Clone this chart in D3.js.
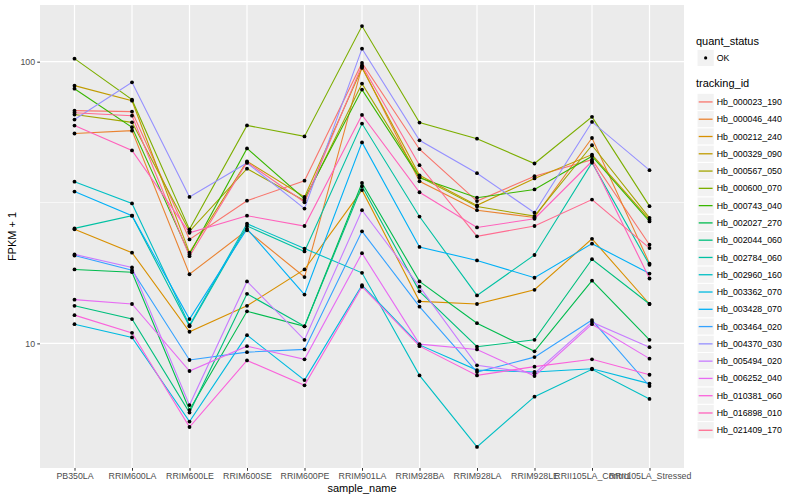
<!DOCTYPE html>
<html>
<head>
<meta charset="utf-8">
<script src="https://cdn.jsdelivr.net/npm/d3@7/dist/d3.min.js"></script>
<style>
	body { margin: 0; background: #ffffff; }
	svg { font-family: "Liberation Sans", Arial, Helvetica, sans-serif; }
</style>
</head>
<body>
<div id="chart"></div>
<script>
//samples along the x axis
var sample_names = ["PB350LA", "RRIM600LA", "RRIM600LE", "RRIM600SE", "RRIM600PE", "RRIM901LA",
	"RRIM928BA", "RRIM928LA", "RRIM928LE", "RRII105LA_Control", "RRII105LA_Stressed"];

var tracking_ids = ["Hb_000023_190", "Hb_000046_440", "Hb_000212_240", "Hb_000329_090", "Hb_000567_050",
	"Hb_000600_070", "Hb_000743_040", "Hb_002027_270", "Hb_002044_060", "Hb_002784_060",
	"Hb_002960_160", "Hb_003362_070", "Hb_003428_070", "Hb_003464_020", "Hb_004370_030",
	"Hb_005494_020", "Hb_006252_040", "Hb_010381_060", "Hb_016898_010", "Hb_021409_170"];

//default ggplot hue palette for 20 levels
var tracking_colors = ["#F8766D", "#EA8331", "#D89000", "#C09B00", "#A3A500", "#7CAE00", "#39B600",
	"#00BB4E", "#00BF7D", "#00C1A3", "#00BFC4", "#00BAE0", "#00B0F6", "#35A2FF", "#9590FF",
	"#C77CFF", "#E76BF3", "#FA62DB", "#FF62BC", "#FF6C91"];

var quant_status = ["OK"];

//FPKM + 1, one value per sample (same order as sample_names)
var hb_000023_190 = [67.0, 66.5, 23.4, 32.1, 37.8, 99.0, 48.9, 32.0, 39.2, 44.9, 22.4];
var hb_000046_440 = [55.6, 56.9, 17.6, 25.2, 17.2, 96.0, 37.6, 29.7, 28.0, 53.6, 19.2];
var hb_000212_240 = [25.4, 21.0, 11.0, 13.6, 18.3, 35.0, 14.1, 13.8, 15.5, 23.5, 13.8];
var hb_000329_090 = [82.2, 72.7, 21.0, 44.3, 33.1, 95.0, 39.5, 30.9, 38.5, 46.8, 27.5];
var hb_000567_050 = [64.9, 60.9, 25.0, 41.7, 32.1, 83.6, 39.0, 30.6, 28.3, 50.5, 27.9];
var hb_000600_070 = [102.5, 73.3, 25.4, 59.4, 54.3, 133.8, 60.8, 53.3, 43.5, 63.7, 30.7];
var hb_000743_040 = [80.2, 58.5, 20.7, 49.2, 32.6, 79.6, 38.7, 32.9, 35.2, 46.2, 27.1];
var hb_002027_270 = [18.3, 17.9, 5.80, 13.0, 11.5, 37.1, 16.6, 11.8, 9.37, 16.7, 10.3];
var hb_002044_060 = [13.6, 12.2, 5.68, 15.0, 11.5, 36.1, 15.3, 9.73, 10.3, 19.9, 13.8];
var hb_002784_060 = [25.6, 28.4, 11.5, 26.1, 21.2, 60.3, 28.2, 14.8, 20.6, 43.8, 19.0];
var hb_002960_160 = [37.5, 31.4, 11.6, 26.6, 21.7, 17.8, 7.70, 4.29, 6.47, 8.09, 6.35];
var hb_003362_070 = [11.7, 10.5, 5.28, 10.7, 7.41, 16.1, 9.88, 8.04, 7.92, 8.13, 7.20];
var hb_003428_070 = [34.6, 28.4, 12.2, 25.5, 14.9, 51.7, 22.0, 19.7, 17.1, 22.6, 17.7];
var hb_003464_020 = [20.5, 18.2, 8.73, 9.31, 9.52, 25.0, 13.5, 7.91, 8.94, 12.1, 7.06];
var hb_004370_030 = [62.3, 84.5, 33.1, 43.7, 30.1, 111.2, 52.6, 40.2, 29.1, 61.1, 41.2];
var hb_005494_020 = [20.7, 18.6, 6.04, 16.6, 10.3, 29.7, 15.9, 8.36, 7.83, 11.9, 9.70];
var hb_006252_040 = [14.3, 13.8, 7.98, 9.78, 8.78, 20.9, 9.94, 9.52, 7.66, 11.7, 8.83];
var hb_010381_060 = [12.6, 10.9, 5.05, 8.70, 7.10, 15.9, 9.78, 7.70, 8.27, 8.78, 7.74];
var hb_016898_010 = [59.3, 48.4, 24.7, 28.4, 26.1, 64.7, 34.4, 25.8, 27.7, 44.3, 17.0];
var hb_021409_170 = [65.9, 64.3, 20.4, 44.0, 31.7, 97.0, 42.9, 24.0, 26.1, 32.4, 21.8];

var y_ticks = [10, 100];

var fpkm_rows = [hb_000023_190, hb_000046_440, hb_000212_240, hb_000329_090, hb_000567_050,
	hb_000600_070, hb_000743_040, hb_002027_270, hb_002044_060, hb_002784_060,
	hb_002960_160, hb_003362_070, hb_003428_070, hb_003464_020, hb_004370_030,
	hb_005494_020, hb_006252_040, hb_010381_060, hb_016898_010, hb_021409_170];


function ExpressionPlot(frame_id)
{
	//Draws one line per gene across the samples, on a log10 y axis
	var self = this;

	self.width = 800;
	self.height = 500;
	self.panel = {left: 40, right: 684, top: 5, bottom: 468};

	self.series = tracking_ids.map(function(id, i)
		{
			return {
				id: id,
				color: tracking_colors[i],
				points: sample_names.map(function(s, j) { return {sample: s, value: fpkm_rows[i][j]}; })
			};
		}
	);

	self.svg = d3.select("#" + frame_id)
		.append("svg")
			.attr("width", self.width)
			.attr("height", self.height);

	self.setScales();
	self.drawPanel();
	self.drawSeries();
	self.drawAxes();
	self.drawLegend();
}

ExpressionPlot.prototype.setScales = function()
{
	var self = this;

	self.x = d3.scalePoint()
		.domain(sample_names)
		.range([self.panel.left, self.panel.right])
		.padding(0.6);

	//ggplot style: 5% expansion of the data range, in log space
	var all_values = [].concat.apply([], fpkm_rows);
	var lo = Math.log10(d3.min(all_values));
	var hi = Math.log10(d3.max(all_values));
	var pad = (hi - lo) * 0.05;

	self.y = d3.scaleLog()
		.domain([Math.pow(10, lo - pad), Math.pow(10, hi + pad)])
		.range([self.panel.bottom, self.panel.top]);
};

ExpressionPlot.prototype.drawPanel = function()
{
	var self = this;
	var p = self.panel;

	self.svg.append("rect")
		.attr("x", p.left)
		.attr("y", p.top)
		.attr("width", p.right - p.left)
		.attr("height", p.bottom - p.top)
		.attr("fill", "#EBEBEB");

	//minor breaks sit halfway between the major ones (in log space)
	var dom = self.y.domain();
	var minor = [];
	var logs = y_ticks.map(Math.log10);
	var step = logs[1] - logs[0];
	for (var k = -1; k < logs.length; k++)
	{
		var m = Math.pow(10, logs[0] + (k + 0.5) * step);
		if (m > dom[0] && m < dom[1]) minor.push(m);
	}

	var grid = self.svg.append("g").attr("class", "grid");

	grid.selectAll(".minor")
		.data(minor)
		.enter()
			.append("line")
				.attr("x1", p.left)
				.attr("x2", p.right)
				.attr("y1", function(d) { return self.y(d); })
				.attr("y2", function(d) { return self.y(d); })
				.attr("stroke", "#ffffff")
				.attr("stroke-width", 0.6);

	grid.selectAll(".major-y")
		.data(y_ticks)
		.enter()
			.append("line")
				.attr("x1", p.left)
				.attr("x2", p.right)
				.attr("y1", function(d) { return self.y(d); })
				.attr("y2", function(d) { return self.y(d); })
				.attr("stroke", "#ffffff")
				.attr("stroke-width", 1.2);

	grid.selectAll(".major-x")
		.data(sample_names)
		.enter()
			.append("line")
				.attr("x1", function(d) { return self.x(d); })
				.attr("x2", function(d) { return self.x(d); })
				.attr("y1", p.top)
				.attr("y2", p.bottom)
				.attr("stroke", "#ffffff")
				.attr("stroke-width", 1.2);
};

ExpressionPlot.prototype.drawSeries = function()
{
	var self = this;

	var line = d3.line()
		.x(function(d) { return self.x(d.sample); })
		.y(function(d) { return self.y(d.value); });

	self.svg.append("g")
		.attr("class", "layer_lines")
		.selectAll("path")
		.data(self.series)
		.enter()
			.append("path")
				.attr("d", function(d) { return line(d.points); })
				.attr("fill", "none")
				.attr("stroke", function(d) { return d.color; })
				.attr("stroke-width", 1.1);

	var all_points = [].concat.apply([], self.series.map(function(s) { return s.points; }));

	self.svg.append("g")
		.attr("class", "layer_points")
		.selectAll("circle")
		.data(all_points)
		.enter()
			.append("circle")
				.attr("cx", function(d) { return self.x(d.sample); })
				.attr("cy", function(d) { return self.y(d.value); })
				.attr("r", 1.9)
				.attr("fill", "#000000");
};

ExpressionPlot.prototype.drawAxes = function()
{
	var self = this;
	var p = self.panel;

	var y_axis = self.svg.append("g")
		.attr("transform", "translate(" + p.left + ",0)")
		.call(d3.axisLeft(self.y)
			.tickValues(y_ticks)
			.tickFormat(d3.format("d"))
			.tickSize(2.75)
			.tickPadding(2.2));

	var x_axis = self.svg.append("g")
		.attr("transform", "translate(0," + p.bottom + ")")
		.call(d3.axisBottom(self.x)
			.tickSize(2.75)
			.tickPadding(2.2));

	[y_axis, x_axis].forEach(function(ax)
		{
			ax.select(".domain").remove();
			ax.selectAll(".tick line").attr("stroke", "#333333").attr("stroke-width", 1);
			ax.selectAll(".tick text")
				.attr("fill", "#4D4D4D")
				.style("font-size", "8.8px")
				.style("font-family", "'Liberation Sans', Arial, sans-serif");
		}
	);

	self.svg.append("text")
		.attr("x", (p.left + p.right) / 2)
		.attr("y", 492)
		.attr("text-anchor", "middle")
		.style("font-size", "11px")
		.attr("fill", "#000000")
		.text("sample_name");

	self.svg.append("text")
		.attr("transform", "translate(16," + ((p.top + p.bottom) / 2) + ") rotate(-90)")
		.attr("text-anchor", "middle")
		.style("font-size", "11px")
		.attr("fill", "#000000")
		.text("FPKM + 1");
};

ExpressionPlot.prototype.drawLegend = function()
{
	var self = this;
	var key = 17.28;
	var left = 697;
	var label_x = left + key + 2.5;

	var legend = self.svg.append("g").attr("class", "legend");

	//shape legend
	legend.append("text")
		.attr("x", 696)
		.attr("y", 44.5)
		.style("font-size", "11px")
		.text("quant_status");

	var ok = legend.selectAll(".status")
		.data(quant_status)
		.enter()
			.append("g")
				.attr("transform", function(d, i) { return "translate(" + left + "," + (49.3 + i * key) + ")"; });

	ok.append("rect")
		.attr("width", key)
		.attr("height", key)
		.attr("fill", "#F2F2F2")
		.attr("stroke", "#ffffff");

	ok.append("circle")
		.attr("cx", key / 2)
		.attr("cy", key / 2)
		.attr("r", 1.6)
		.attr("fill", "#000000");

	ok.append("text")
		.attr("x", label_x - left)
		.attr("y", key / 2)
		.attr("dy", "0.35em")
		.style("font-size", "8.8px")
		.text(function(d) { return d; });

	//colour legend
	legend.append("text")
		.attr("x", 696)
		.attr("y", 87)
		.style("font-size", "11px")
		.text("tracking_id");

	var items = legend.selectAll(".item")
		.data(self.series)
		.enter()
			.append("g")
				.attr("class", "item")
				.attr("transform", function(d, i) { return "translate(" + left + "," + (93.3 + i * key) + ")"; });

	items.append("rect")
		.attr("width", key)
		.attr("height", key)
		.attr("fill", "#F2F2F2")
		.attr("stroke", "#ffffff");

	items.append("line")
		.attr("x1", 1.7)
		.attr("x2", key - 1.7)
		.attr("y1", key / 2)
		.attr("y2", key / 2)
		.attr("stroke", function(d) { return d.color; })
		.attr("stroke-width", 1.3);

	items.append("text")
		.attr("x", label_x - left)
		.attr("y", key / 2)
		.attr("dy", "0.35em")
		.style("font-size", "8.8px")
		.text(function(d) { return d.id; });
};

plot_1 = new ExpressionPlot("chart");
</script>
</body>
</html>
